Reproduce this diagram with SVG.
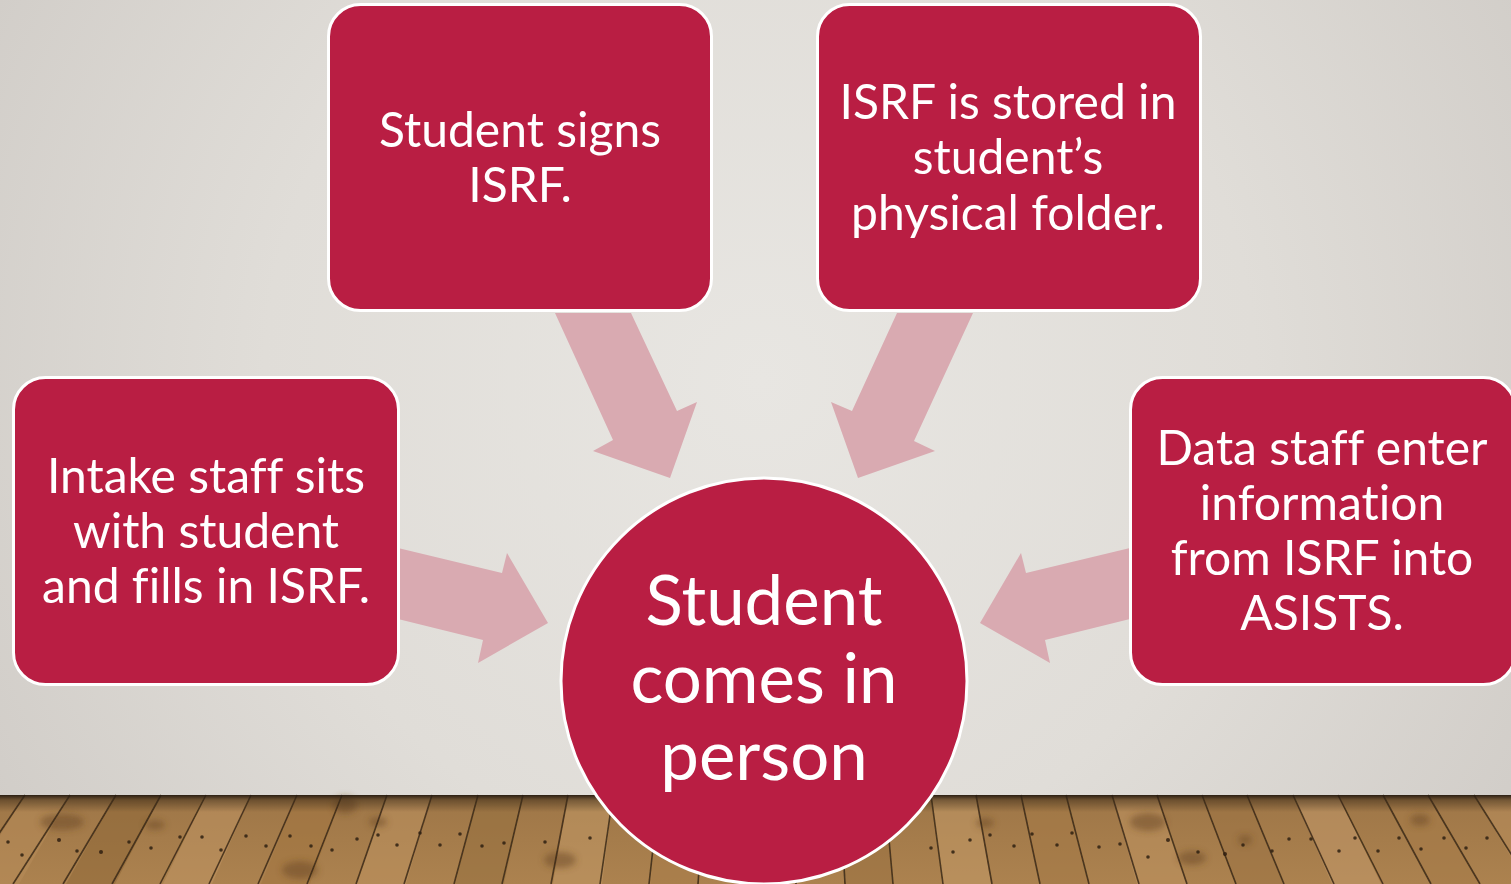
<svg xmlns="http://www.w3.org/2000/svg" width="1511" height="884" viewBox="0 0 1511 884">
  <defs>
    <radialGradient id="wall" cx="760" cy="380" r="900" gradientUnits="userSpaceOnUse">
      <stop offset="0" stop-color="#E8E6E2"/>
      <stop offset="0.55" stop-color="#E0DDD8"/>
      <stop offset="1" stop-color="#D0CCC7"/>
    </radialGradient>
    <linearGradient id="floorBase" x1="0" y1="795" x2="0" y2="884" gradientUnits="userSpaceOnUse">
      <stop offset="0" stop-color="#9E7647"/>
      <stop offset="1" stop-color="#AC824F"/>
    </linearGradient>
    <linearGradient id="floorShade" x1="0" y1="795" x2="0" y2="812" gradientUnits="userSpaceOnUse">
      <stop offset="0" stop-color="#241A10" stop-opacity="0.95"/>
      <stop offset="0.3" stop-color="#3A2A18" stop-opacity="0.5"/>
      <stop offset="1" stop-color="#3A2A18" stop-opacity="0"/>
    </linearGradient>
    <filter id="soft" x="-50%" y="-50%" width="200%" height="200%">
      <feGaussianBlur stdDeviation="3"/>
    </filter>
    <filter id="softer" x="-50%" y="-50%" width="200%" height="200%">
      <feGaussianBlur stdDeviation="0.7"/>
    </filter>
  </defs>
  <style>
    .box { fill: #B91E43; stroke: #FFFFFF; stroke-width: 3; }
    .hub { fill: #B91E43; stroke: #FFFFFF; stroke-width: 3; }
    .label { font-family: Lato, "Open Sans", "Liberation Sans", sans-serif; fill: #FFFFFF; text-anchor: middle; font-variant-ligatures: none; font-feature-settings: "liga" 0, "clig" 0; }
    .small { font-size: 48px; }
    .big { font-size: 69px; }
    .arrow { fill: #D9AAB1; }
    .seam { stroke: #3A2815; stroke-width: 1.6; stroke-opacity: 0.85; fill: none; }
    .nail { fill: #2E2013; opacity: 0.85; }
    .knot { fill: #6E4A24; opacity: 0.55; }
  </style>

  <!-- wall -->
  <rect x="0" y="0" width="1511" height="884" fill="url(#wall)"/>

  <!-- wooden floor -->
  <g id="floor">
    <rect x="0" y="795" width="1511" height="89" fill="url(#floorBase)"/>
    <!-- plank tints -->
    <g opacity="0.55">
      <polygon points="25,795 70,795 19,884 -30,884" fill="#B88D5A"/>
      <polygon points="116,795 161,795 115,884 66,884" fill="#8F6838"/>
      <polygon points="206,795 251,795 212,884 163,884" fill="#C09563"/>
      <polygon points="297,795 342,795 310,884 261,884" fill="#A27540"/>
      <polygon points="387,795 432,795 406,884 357,884" fill="#BE9360"/>
      <polygon points="478,795 523,795 504,884 455,884" fill="#96703F"/>
      <polygon points="568,795 613,795 602,884 553,884" fill="#C29966"/>
      <polygon points="659,795 704,795 699,884 651,884" fill="#A97D49"/>
      <polygon points="750,795 795,795 796,884 748,884" fill="#B88E5B"/>
      <polygon points="840,795 885,795 893,884 845,884" fill="#9A7141"/>
      <polygon points="931,795 976,795 991,884 943,884" fill="#C49B68"/>
      <polygon points="1021,795 1066,795 1088,884 1040,884" fill="#A47946"/>
      <polygon points="1112,795 1157,795 1186,884 1137,884" fill="#BF9461"/>
      <polygon points="1202,795 1247,795 1284,884 1235,884" fill="#9C7343"/>
      <polygon points="1293,795 1338,795 1381,884 1332,884" fill="#C3996A"/>
      <polygon points="1383,795 1428,795 1479,884 1430,884" fill="#A67B48"/>
      <polygon points="1474,795 1519,795 1576,884 1527,884" fill="#BA8F5D"/>
    </g>
    <!-- knots and grain blotches -->
    <g filter="url(#soft)">
      <ellipse class="knot" cx="62" cy="822" rx="22" ry="8"/>
      <ellipse class="knot" cx="155" cy="825" rx="10" ry="5"/>
      <ellipse class="knot" cx="345" cy="805" rx="12" ry="9"/>
      <ellipse class="knot" cx="378" cy="822" rx="9" ry="5"/>
      <ellipse class="knot" cx="300" cy="870" rx="18" ry="9"/>
      <ellipse class="knot" cx="985" cy="823" rx="9" ry="5"/>
      <ellipse class="knot" cx="1148" cy="822" rx="18" ry="9"/>
      <ellipse class="knot" cx="1192" cy="858" rx="14" ry="7"/>
      <ellipse class="knot" cx="1245" cy="840" rx="7" ry="5"/>
      <ellipse class="knot" cx="1420" cy="820" rx="10" ry="6"/>
      <ellipse class="knot" cx="830" cy="850" rx="14" ry="8"/>
      <ellipse class="knot" cx="560" cy="860" rx="16" ry="8"/>
    </g>
    <!-- plank seams, converging above the centre -->
    <g class="seam" filter="url(#softer)">
      <line x1="-20" y1="795" x2="-84" y2="884"/>
      <line x1="25" y1="795" x2="-35" y2="884"/>
      <line x1="70" y1="795" x2="13" y2="884"/>
      <line x1="116" y1="795" x2="63" y2="884"/>
      <line x1="161" y1="795" x2="112" y2="884"/>
      <line x1="206" y1="795" x2="160" y2="884"/>
      <line x1="251" y1="795" x2="209" y2="884"/>
      <line x1="297" y1="795" x2="258" y2="884"/>
      <line x1="342" y1="795" x2="307" y2="884"/>
      <line x1="387" y1="795" x2="356" y2="884"/>
      <line x1="432" y1="795" x2="404" y2="884"/>
      <line x1="478" y1="795" x2="454" y2="884"/>
      <line x1="523" y1="795" x2="502" y2="884"/>
      <line x1="568" y1="795" x2="551" y2="884"/>
      <line x1="613" y1="795" x2="600" y2="884"/>
      <line x1="659" y1="795" x2="649" y2="884"/>
      <line x1="704" y1="795" x2="698" y2="884"/>
      <line x1="750" y1="795" x2="748" y2="884"/>
      <line x1="795" y1="795" x2="796" y2="884"/>
      <line x1="840" y1="795" x2="845" y2="884"/>
      <line x1="885" y1="795" x2="893" y2="884"/>
      <line x1="931" y1="795" x2="943" y2="884"/>
      <line x1="976" y1="795" x2="992" y2="884"/>
      <line x1="1021" y1="795" x2="1040" y2="884"/>
      <line x1="1066" y1="795" x2="1089" y2="884"/>
      <line x1="1112" y1="795" x2="1139" y2="884"/>
      <line x1="1157" y1="795" x2="1187" y2="884"/>
      <line x1="1202" y1="795" x2="1236" y2="884"/>
      <line x1="1247" y1="795" x2="1284" y2="884"/>
      <line x1="1293" y1="795" x2="1334" y2="884"/>
      <line x1="1338" y1="795" x2="1383" y2="884"/>
      <line x1="1383" y1="795" x2="1431" y2="884"/>
      <line x1="1428" y1="795" x2="1480" y2="884"/>
      <line x1="1474" y1="795" x2="1530" y2="884"/>
      <line x1="1519" y1="795" x2="1578" y2="884"/>
    </g>
    <!-- nail heads -->
    <g filter="url(#softer)">
      <circle class="nail" cx="8" cy="842" r="1.8"/>
      <circle class="nail" cx="22" cy="855" r="1.8"/>
      <circle class="nail" cx="59" cy="840" r="2"/>
      <circle class="nail" cx="77" cy="851" r="1.8"/>
      <circle class="nail" cx="101" cy="852" r="2"/>
      <circle class="nail" cx="129" cy="842" r="1.8"/>
      <circle class="nail" cx="151" cy="848" r="1.8"/>
      <circle class="nail" cx="180" cy="837" r="1.8"/>
      <circle class="nail" cx="202" cy="837" r="1.8"/>
      <circle class="nail" cx="221" cy="850" r="1.8"/>
      <circle class="nail" cx="246" cy="836" r="1.8"/>
      <circle class="nail" cx="266" cy="846" r="1.8"/>
      <circle class="nail" cx="290" cy="836" r="1.8"/>
      <circle class="nail" cx="311" cy="846" r="1.8"/>
      <circle class="nail" cx="332" cy="850" r="1.8"/>
      <circle class="nail" cx="357" cy="839" r="1.8"/>
      <circle class="nail" cx="378" cy="835" r="1.8"/>
      <circle class="nail" cx="397" cy="845" r="1.8"/>
      <circle class="nail" cx="420" cy="833" r="1.8"/>
      <circle class="nail" cx="440" cy="845" r="1.8"/>
      <circle class="nail" cx="460" cy="834" r="1.8"/>
      <circle class="nail" cx="482" cy="846" r="1.8"/>
      <circle class="nail" cx="504" cy="843" r="1.8"/>
      <circle class="nail" cx="545" cy="842" r="1.8"/>
      <circle class="nail" cx="590" cy="838" r="1.8"/>
      <circle class="nail" cx="640" cy="838" r="1.8"/>
      <circle class="nail" cx="931" cy="848" r="1.8"/>
      <circle class="nail" cx="953" cy="852" r="1.8"/>
      <circle class="nail" cx="970" cy="840" r="1.8"/>
      <circle class="nail" cx="990" cy="835" r="1.8"/>
      <circle class="nail" cx="1014" cy="846" r="1.8"/>
      <circle class="nail" cx="1032" cy="834" r="1.8"/>
      <circle class="nail" cx="1057" cy="845" r="1.8"/>
      <circle class="nail" cx="1072" cy="833" r="1.8"/>
      <circle class="nail" cx="1099" cy="847" r="1.8"/>
      <circle class="nail" cx="1120" cy="844" r="1.8"/>
      <circle class="nail" cx="1148" cy="857" r="1.8"/>
      <circle class="nail" cx="1168" cy="840" r="2"/>
      <circle class="nail" cx="1198" cy="852" r="1.8"/>
      <circle class="nail" cx="1225" cy="854" r="2"/>
      <circle class="nail" cx="1243" cy="845" r="1.8"/>
      <circle class="nail" cx="1272" cy="851" r="1.8"/>
      <circle class="nail" cx="1289" cy="839" r="1.8"/>
      <circle class="nail" cx="1311" cy="839" r="1.8"/>
      <circle class="nail" cx="1339" cy="851" r="1.8"/>
      <circle class="nail" cx="1355" cy="838" r="1.8"/>
      <circle class="nail" cx="1378" cy="851" r="1.8"/>
      <circle class="nail" cx="1399" cy="838" r="1.8"/>
      <circle class="nail" cx="1421" cy="849" r="1.8"/>
      <circle class="nail" cx="1444" cy="838" r="1.8"/>
      <circle class="nail" cx="1466" cy="848" r="1.8"/>
      <circle class="nail" cx="1487" cy="838" r="1.8"/>
    </g>
    <!-- shadow where the wall meets the floor -->
    <rect x="0" y="795" width="1511" height="17" fill="url(#floorShade)"/>
  </g>

  <!-- connectors: broad arrows pointing into the hub -->
  <g id="connectors">
    <polygon class="arrow" points="555,313 631,313 677,411 697,402 670,478 593,451 613,440"/>
    <polygon class="arrow" points="897,313 973,313 914,441 935,451 858,478 831,402 852,411"/>
    <polygon class="arrow" points="398,548 502,573 507,553 548,623 478,663 483,640 398,619"/>
    <polygon class="arrow" points="1130,548 1026,573 1021,553 980,623 1050,663 1045,640 1130,619"/>
  </g>

  <!-- outer nodes -->
  <g id="node-sign">
    <rect class="box" x="328.5" y="4.5" width="383" height="306" rx="32"/>
    <text class="label small" x="520" y="147">Student signs</text>
    <text class="label small" x="520" y="202">ISRF.</text>
  </g>
  <g id="node-store">
    <rect class="box" x="817.5" y="4.5" width="383" height="306" rx="32"/>
    <text class="label small" x="1008" y="119">ISRF is stored in</text>
    <text class="label small" x="1008" y="174">student’s</text>
    <text class="label small" x="1008" y="230">physical folder.</text>
  </g>
  <g id="node-intake">
    <rect class="box" x="13.5" y="377.5" width="385" height="307" rx="32"/>
    <text class="label small" x="206" y="493">Intake staff sits</text>
    <text class="label small" x="206" y="548">with student</text>
    <text class="label small" x="206" y="603">and fills in ISRF.</text>
  </g>
  <g id="node-data">
    <rect class="box" x="1130.5" y="377.5" width="385" height="307" rx="32"/>
    <text class="label small" x="1322" y="465">Data staff enter</text>
    <text class="label small" x="1322" y="520">information</text>
    <text class="label small" x="1322" y="575">from ISRF into</text>
    <text class="label small" x="1322" y="630">ASISTS.</text>
  </g>

  <!-- hub -->
  <g id="node-hub">
    <circle class="hub" cx="764" cy="681" r="203"/>
    <text class="label big" x="764" y="625">Student</text>
    <text class="label big" x="764" y="703">comes in</text>
    <text class="label big" x="764" y="780">person</text>
  </g>
</svg>
